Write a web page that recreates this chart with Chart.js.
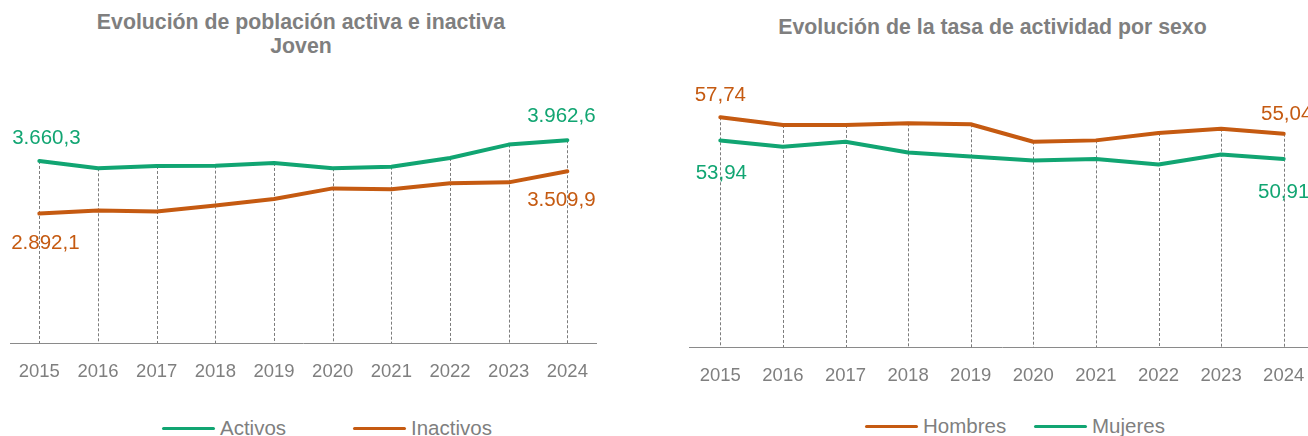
<!DOCTYPE html>
<html><head><meta charset="utf-8">
<script src="https://cdn.jsdelivr.net/npm/chart.js@4.4.1/dist/chart.umd.min.js"></script>
<style>
html,body{margin:0;padding:0;background:#fff;width:1308px;height:436px;overflow:hidden;position:relative;font-family:"Liberation Sans",Arial,sans-serif;}
canvas{position:absolute;top:0}
.title{position:absolute;font-weight:bold;color:#7f7f7f;font-size:21.3px;text-align:center;line-height:24px;white-space:nowrap;transform:translateX(-50%)}
.leg{position:absolute;font-size:20.5px;color:#7f7f7f;white-space:nowrap;display:flex;align-items:center;height:24px;line-height:24px}
.sw{display:inline-block;width:53px;height:3px;border-radius:2px;margin-right:5px}
</style>
</head><body>
<div class="title" style="left:301px;top:10px">Evolución de población activa e inactiva<br>Joven</div>
<div class="title" style="left:992.5px;top:15px">Evolución de la tasa de actividad por sexo</div>
<canvas id="c1" width="640" height="400" style="left:0"></canvas>
<canvas id="c2" width="680" height="400" style="left:660px"></canvas>
<div class="leg" style="left:162px;top:416px"><span class="sw" style="background:#11A572"></span>Activos</div>
<div class="leg" style="left:353px;top:416px"><span class="sw" style="background:#C55A11"></span>Inactivos</div>
<div class="leg" style="left:865px;top:414px"><span class="sw" style="background:#C55A11"></span>Hombres</div>
<div class="leg" style="left:1034px;top:414px"><span class="sw" style="background:#11A572"></span>Mujeres</div>
<script>
const years = ['2015','2016','2017','2018','2019','2020','2021','2022','2023','2024'];
const activos = [3660.3, 3553, 3587, 3592, 3631, 3553, 3577, 3704, 3899, 3962.6];
const inactivos = [2892.1, 2938, 2924, 3012, 3104, 3260, 3246, 3334, 3348, 3509.9];
const hombres = [57.74, 56.48, 56.48, 56.75, 56.59, 53.73, 53.95, 55.16, 55.87, 55.04];
const mujeres = [53.94, 52.90, 53.72, 51.96, 51.30, 50.64, 50.91, 49.98, 51.63, 50.91];

const GREEN = '#11A572';
const ORANGE = '#C55A11';
const FONT = '"Liberation Sans", Arial, sans-serif';

function fmtEs(v, dec){
  const s = v.toFixed(dec);
  let [ip, dp] = s.split('.');
  ip = ip.replace(/\B(?=(\d{3})+(?!\d))/g, '.');
  return dp ? ip + ',' + dp : ip;
}

const dropLines = {
  id: 'dropLines',
  beforeDatasetsDraw(chart, args, opts){
    const {ctx, chartArea} = chart;
    const n = chart.data.labels.length;
    ctx.save();
    ctx.strokeStyle = opts.color || '#909090';
    ctx.lineWidth = 1;
    ctx.setLineDash([3, 2]);
    for (let i = 0; i < n; i++){
      let top = Infinity, x = 0;
      chart.data.datasets.forEach((ds, di) => {
        const el = chart.getDatasetMeta(di).data[i];
        if (el.y < top) top = el.y;
        x = el.x;
      });
      const px = Math.round(x) + 0.5;
      ctx.beginPath();
      ctx.moveTo(px, top);
      ctx.lineTo(px, chartArea.bottom);
      ctx.stroke();
    }
    ctx.restore();
  }
};

const endLabels = {
  id: 'endLabels',
  afterDatasetsDraw(chart, args, opts){
    const {ctx} = chart;
    ctx.save();
    ctx.font = (opts.size || 20) + 'px ' + FONT;
    ctx.textAlign = 'center';
    ctx.textBaseline = 'middle';
    (opts.items || []).forEach(it => {
      const ds = chart.data.datasets[it.ds];
      const el = chart.getDatasetMeta(it.ds).data[it.i];
      ctx.fillStyle = ds.borderColor;
      ctx.fillText(fmtEs(ds.data[it.i], opts.dec), el.x + it.dx, el.y + it.dy);
    });
    ctx.restore();
  }
};

function lineDs(label, data, color){
  return {label, data, borderColor: color, backgroundColor: color, borderWidth: 4,
    pointRadius: 0, tension: 0, borderJoinStyle: 'round', borderCapStyle: 'round', fill: false};
}

function xScale(){
  return {
    offset: true,
    grid: {display: false, drawTicks: false},
    border: {display: true, color: '#8a8a8a', width: 1},
    ticks: {color: '#7f7f7f', font: {family: FONT, size: 18.5}, padding: 18, maxRotation: 0, autoSkip: false},
    afterFit(s){ s.height = 50; }
  };
}

new Chart(document.getElementById('c1'), {
  type: 'line',
  data: {labels: years, datasets: [lineDs('Activos', activos, GREEN), lineDs('Inactivos', inactivos, ORANGE)]},
  plugins: [dropLines, endLabels],
  options: {
    responsive: false, animation: false, events: [],
    layout: {padding: {left: 10, right: 43.3, top: 103.4, bottom: 400 - 343.3 - 50}},
    plugins: {
      legend: {display: false}, title: {display: false}, tooltip: {enabled: false},
      dropLines: {color: '#7c7c7c'},
      endLabels: {dec: 1, size: 20.5, items: [
        {ds: 0, i: 0, dx: 7, dy: -22.5},
        {ds: 0, i: 9, dx: -6, dy: -24},
        {ds: 1, i: 0, dx: 6, dy: 30},
        {ds: 1, i: 9, dx: -6, dy: 29}
      ]}
    },
    scales: {x: xScale(), y: {display: false, min: 1000, max: 4500}}
  }
});

new Chart(document.getElementById('c2'), {
  type: 'line',
  data: {labels: years, datasets: [lineDs('Hombres', hombres, ORANGE), lineDs('Mujeres', mujeres, GREEN)]},
  plugins: [dropLines, endLabels],
  options: {
    responsive: false, animation: false, events: [],
    layout: {padding: {left: 29, right: 25, top: 103.5, bottom: 400 - 347.3 - 50}},
    plugins: {
      legend: {display: false}, title: {display: false}, tooltip: {enabled: false},
      dropLines: {color: '#7c7c7c'},
      endLabels: {dec: 2, size: 20.5, items: [
        {ds: 0, i: 0, dx: 0, dy: -21.6},
        {ds: 0, i: 9, dx: 3, dy: -19},
        {ds: 1, i: 0, dx: 1, dy: 33},
        {ds: 1, i: 9, dx: 0, dy: 33}
      ]}
    },
    scales: {x: xScale(), y: {display: false, min: 20, max: 60}}
  }
});
</script>
</body></html>
